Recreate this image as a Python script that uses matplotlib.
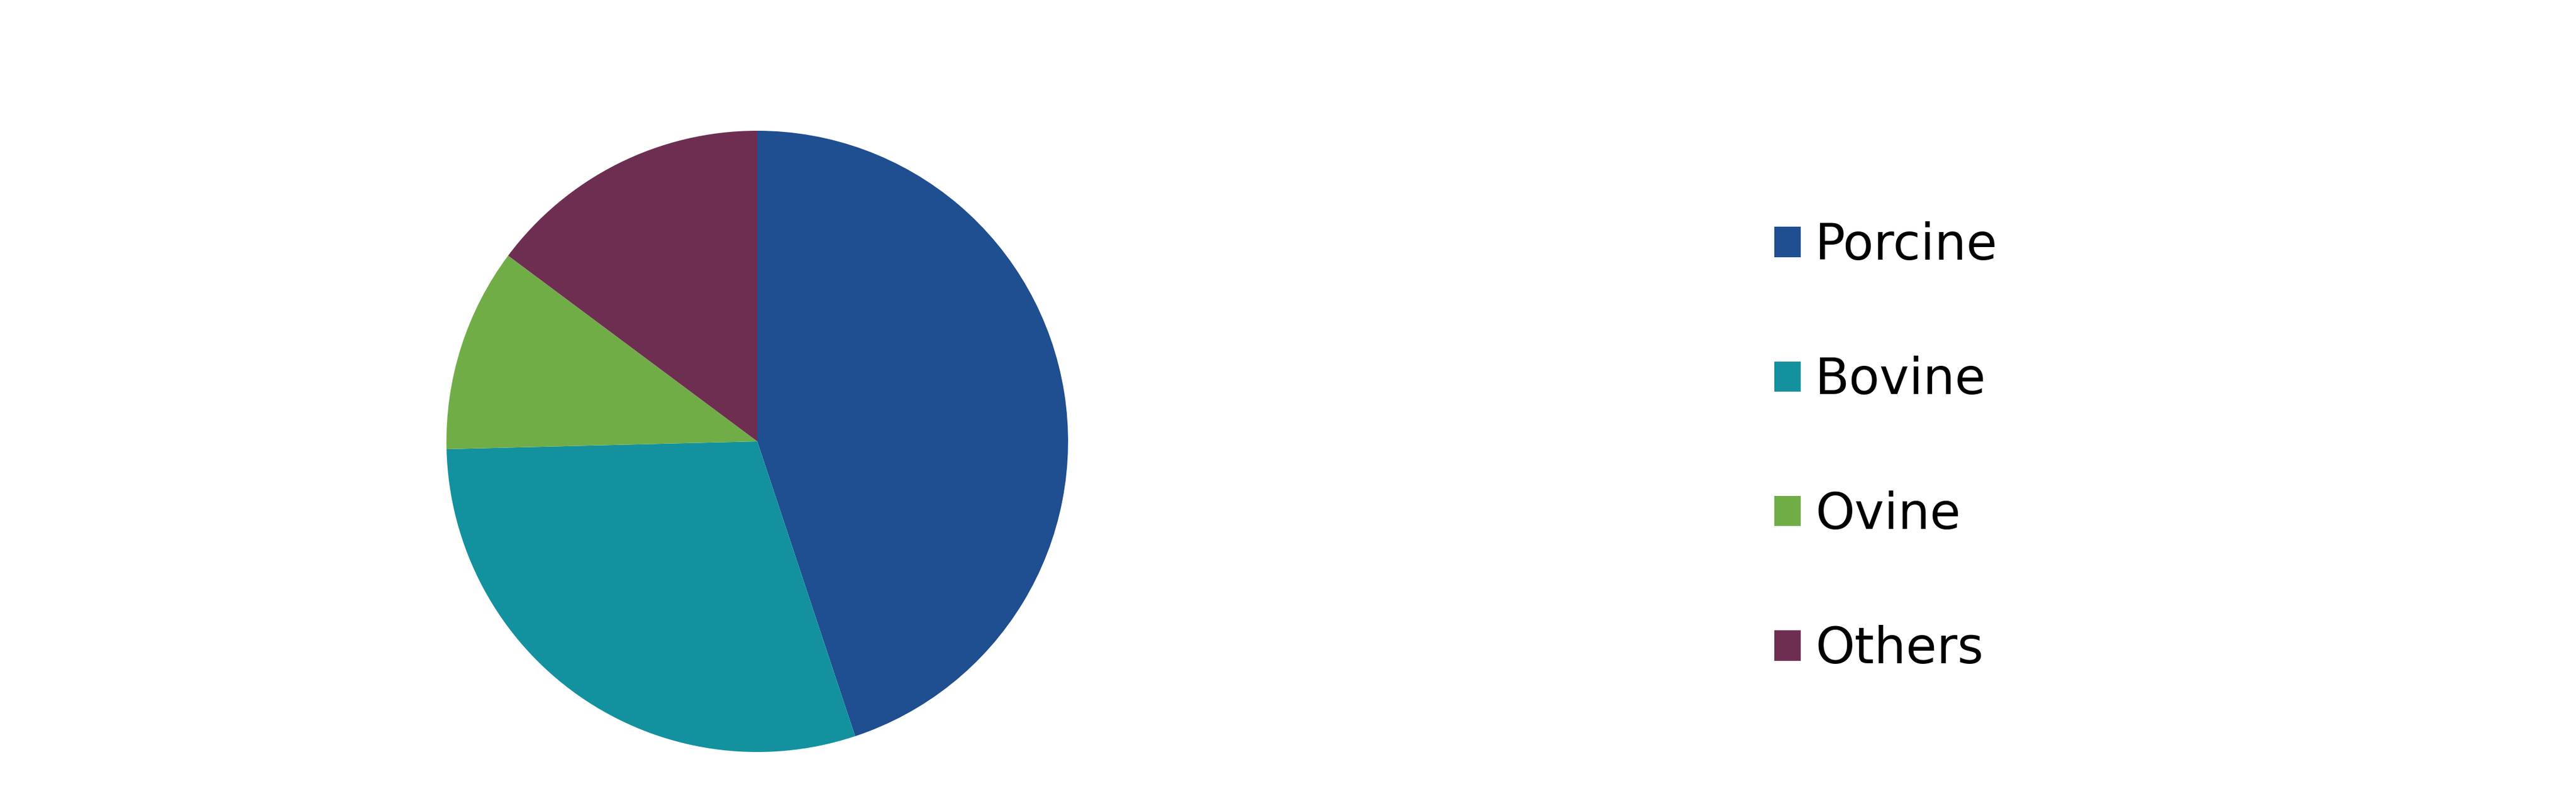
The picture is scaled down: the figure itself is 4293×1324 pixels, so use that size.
import matplotlib
matplotlib.use("Agg")
import matplotlib.pyplot as plt
from matplotlib.patches import Patch

categories = ["Porcine", "Bovine", "Ovine", "Others"]
shares = [44.9, 29.7, 10.6, 14.8]
colors = ["#1F4E91", "#13919E", "#70AD47", "#6E2E51"]

W, H = 4293, 1324
fig = plt.figure(figsize=(W / 100, H / 100), dpi=100)
fig.patch.set_facecolor("white")

cx, cy, r = 1262, 736, 518
ax = fig.add_axes([(cx - r) / W, (H - cy - r) / H, 2 * r / W, 2 * r / H])
ax.pie(shares, colors=colors, startangle=90, counterclock=False, radius=1,
       wedgeprops=dict(linewidth=0))
ax.set_xlim(-1, 1)
ax.set_ylim(-1, 1)
ax.set_axis_off()

handles = [Patch(facecolor=c, edgecolor="none", label=l) for c, l in zip(colors, categories)]
fig.legend(handles=handles, loc="upper left", bbox_to_anchor=(2957 / W, 1 - 369 / H),
           frameon=False, borderpad=0, borderaxespad=0,
           handlelength=0.53, handleheight=0.55, handletextpad=0.29, labelspacing=1.72,
           prop=dict(family="DejaVu Sans", size=60))

fig.savefig("out.png", dpi=100, facecolor="white")
